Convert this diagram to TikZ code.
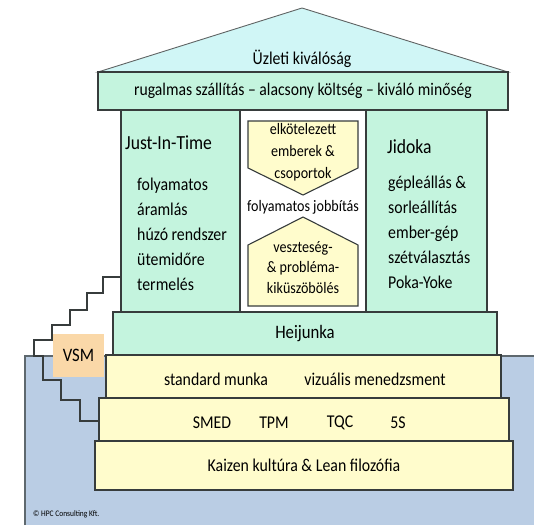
\documentclass[tikz,border=0pt]{standalone}
\usepackage{fontspec}
\setmainfont{Carlito}[FakeStretch=0.88]
\usetikzlibrary{calc, positioning}
\definecolor{roofCyan}{RGB}{208,246,246}
\definecolor{pillarMint}{RGB}{196,244,222}
\definecolor{baseYellow}{RGB}{255,252,204}
\definecolor{vsmOrange}{RGB}{250,216,168}
\definecolor{waterBlue}{RGB}{186,205,228}
\definecolor{lineGray}{RGB}{55,60,60}

\begin{document}
\begin{tikzpicture}[x=1pt,y=-1pt,
    box/.style={draw=lineGray, line width=1.1pt, inner sep=0pt, font=\fontsize{18}{20}\selectfont},
    mintbox/.style={box, fill=pillarMint},
    yellowbox/.style={box, fill=baseYellow},
    pillartext/.style={anchor=west, align=left, inner sep=0pt, font=\fontsize{18}{25}\selectfont},
    midtext/.style={align=center, inner sep=0pt, font=\fontsize{16}{22}\selectfont}]

    \useasboundingbox (0,0) rectangle (534,525);

    % water and stairs
    \fill[waterBlue] (25,356) rectangle (534,525);
    \draw[lineGray!70!waterBlue, line width=1.2pt] (25,525) -- (25,356) -- (534,356);
    \draw[lineGray, line width=2.2pt] (121,277) -- (103,277) -- (103,293) -- (87,293) -- (87,310)
        -- (70,310) -- (70,325) -- (52,325) -- (52,340) -- (34,340) -- (34,356) -- (43,356)
        -- (43,380) -- (61,380) -- (61,400) -- (80,400) -- (80,421) -- (99,421);
    \node[fill=vsmOrange, minimum width=51pt, minimum height=43pt, inner sep=0pt,
        font=\fontsize{19}{20}\selectfont] (vsm) at (78.5,355.5) {VSM};

    % roof
    \draw[draw=lineGray!80, line width=0.9pt, fill=roofCyan] (98,72) -- (302,8) -- (508,72) -- cycle;
    \node[font=\fontsize{18}{20}\selectfont] (excellence) at (302,59) {Üzleti kiválóság};
    \node[mintbox, minimum width=410pt, minimum height=38pt, font=\fontsize{17.8}{20}\selectfont]
        (banner) at (303,91) {rugalmas szállítás -- alacsony költség -- kiváló minőség};

    % pillars
    \node[mintbox, minimum width=119pt, minimum height=202pt] (jit) at (180.5,211) {};
    \node[mintbox, minimum width=121pt, minimum height=202pt] (jidoka) at (426.5,211) {};
    \node[pillartext, font=\fontsize{20}{22}\selectfont] (jitTitle) at (125,143) {Just-In-Time};
    \node[pillartext] (jitText) at (137,234)
        {folyamatos\\áramlás\\húzó rendszer\\ütemidőre\\termelés};
    \node[pillartext, font=\fontsize{20}{22}\selectfont] (jidokaTitle) at (387,147) {Jidoka};
    \node[pillartext] (jidokaText) at (388,232.5)
        {gépleállás \&\\sorleállítás\\ember-gép\\szétválasztás\\Poka-Yoke};

    % people and improvement
    \draw[yellowbox] (248,121) -- (358,121) -- (358,168) -- (303,195) -- (248,168) -- cycle;
    \draw[yellowbox] (248,245) -- (303,217) -- (358,245) -- (358,306) -- (248,306) -- cycle;
    \node[midtext] (people) at (303,152) {elkötelezett\\emberek \&\\csoportok};
    \node[midtext] (improve) at (303,207) {folyamatos jobbítás};
    \node[midtext, font=\fontsize{16}{20.5}\selectfont] (waste) at (303,267.5)
        {veszteség-\\\& probléma-\\kiküszöbölés};

    % foundation
    \node[mintbox, minimum width=384pt, minimum height=43pt, font=\fontsize{19}{20}\selectfont]
        (heijunka) at (305,333.5) {Heijunka};
    \node[yellowbox, minimum width=395pt, minimum height=43pt] (standard) at (303.5,376.5) {};
    \node[font=\fontsize{18}{20}\selectfont] (stdWork) at (216,379) {standard munka};
    \node[font=\fontsize{18}{20}\selectfont] (visual) at (375,379) {vizuális menedzsment};
    \node[yellowbox, minimum width=410pt, minimum height=43pt] (tools) at (304,419.5) {};
    \node[font=\fontsize{18}{20}\selectfont] (smed) at (212,423) {SMED};
    \node[font=\fontsize{18}{20}\selectfont] (tpm) at (274,423) {TPM};
    \node[font=\fontsize{18}{20}\selectfont] (tqc) at (340,423) {TQC};
    \node[font=\fontsize{18}{20}\selectfont] (fiveS) at (398,423) {5S};
    \node[yellowbox, minimum width=418pt, minimum height=49pt] (kaizen) at (304,465.5)
        {Kaizen kultúra \& Lean filozófia};

    \node[anchor=west, inner sep=0pt, font=\fontsize{8.5}{9}\selectfont] (copy) at (33,514)
        {© HPC Consulting Kft.};
\end{tikzpicture}
\end{document}
